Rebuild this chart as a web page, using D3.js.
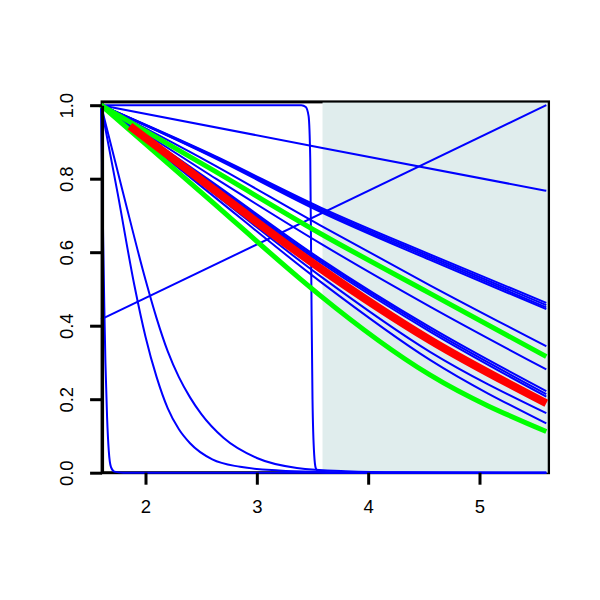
<!DOCTYPE html>
<html>
<head>
<meta charset="utf-8">
<script src="https://cdn.jsdelivr.net/npm/d3@7"></script>
<style>
  html, body { margin: 0; padding: 0; background: #ffffff; }
  svg { display: block; }
  text { font-family: "Liberation Sans", Arial, Helvetica, sans-serif; }
</style>
</head>
<body>
<svg id="chart" width="600" height="600"></svg>
<script>
// ---------------- data ----------------
const xLimits = [1.61, 5.62];
const yLimits = [0, 1.009];
const shadeStart = 3.59;
const xTicks = [2, 3, 4, 5];
const xTickLabels = ["2", "3", "4", "5"];
const yTicks = [0, 0.2, 0.4, 0.6, 0.8, 1.0];
const yTickLabels = ["0.0", "0.2", "0.4", "0.6", "0.8", "1.0"];

// common x grid of the fan of decaying curves
const fanX = [1.6, 2.58, 3.57, 4.555, 5.6];
const blueFan1 = [1, 0.868, 0.722, 0.594, 0.462];
const blueFan2 = [1, 0.866, 0.718, 0.589, 0.456];
const blueFan3 = [1, 0.864, 0.714, 0.584, 0.450];
const blueFan4 = [1, 0.862, 0.710, 0.579, 0.445];
const blueFan5 = [1, 0.843, 0.673, 0.510, 0.344];
const blueFan6 = [1, 0.810, 0.624, 0.452, 0.281];
const blueFan7 = [1, 0.795, 0.582, 0.396, 0.222];
const blueFan8 = [1, 0.791, 0.577, 0.390, 0.214];
const blueFan9 = [1, 0.787, 0.572, 0.384, 0.207];
const blueFan10 = [1, 0.768, 0.535, 0.329, 0.162];
const blueFan11 = [1, 0.760, 0.520, 0.307, 0.134];
const greenUpper = [1, 0.828, 0.651, 0.488, 0.316];
const greenLowerX = [1.6, 2.58, 3.36, 3.57, 4.555, 5.6];
const greenLower = [1, 0.742, 0.535, 0.482, 0.266, 0.112];

const redX = [1.86, 2.58, 3.57, 4.555, 5.6];
const redY = [0.943, 0.778, 0.556, 0.361, 0.189];

// nearly straight lines
const slowX = [1.6, 3.6, 5.6];
const slowY = [1, 0.883, 0.767];
const riseX = [1.6, 5.6];
const riseY = [0.417, 1.0];

// step-like drop near 3.5
const stepX = [1.6, 3.40, 3.44, 3.465, 3.48, 3.49, 3.50, 3.515, 3.53, 3.56, 3.62, 5.6];
const stepY = [1, 1, 0.995, 0.97, 0.85, 0.5, 0.2, 0.05, 0.012, 0.002, 0, 0];

// very steep drop at the left edge
const cliffX = [1.6, 1.612, 1.62, 1.63, 1.64, 1.655, 1.67, 1.69, 1.72, 1.8, 5.6];
const cliffY = [1, 0.8, 0.63, 0.45, 0.30, 0.15, 0.06, 0.015, 0.003, 0, 0];

// two fast decays
const fast1X = [1.6, 1.75, 1.9, 2.0, 2.1, 2.2, 2.3, 2.4, 2.6, 2.85, 3.2, 3.6, 4.0, 5.6];
const fast1Y = [1, 0.76, 0.51, 0.37, 0.26, 0.175, 0.118, 0.08, 0.036, 0.016, 0.006, 0.002, 0.0005, 0];
const fast2X = [1.6, 1.8, 2.0, 2.1, 2.2, 2.3, 2.4, 2.5, 2.7, 3.0, 3.36, 3.8, 4.3, 5.6];
const fast2Y = [1, 0.76, 0.525, 0.42, 0.33, 0.26, 0.205, 0.16, 0.095, 0.04, 0.013, 0.004, 0.001, 0];

// ---------------- drawing ----------------
const svg = d3.select("#chart");
const x = d3.scaleLinear().domain([2, 5]).range([145.5, 479.5]);
const y = d3.scaleLinear().domain([0, 1]).range([472.7, 105.2]);

const line = d3.line()
  .x(d => x(d[0]))
  .y(d => y(d[1]))
  .curve(d3.curveMonotoneX);

const zip = (xs, ys) => xs.map((v, i) => [v, ys[i]]);

// frame box
svg.append("rect")
  .attr("x", x(xLimits[0]))
  .attr("y", y(yLimits[1]))
  .attr("width", x(xLimits[1]) - x(xLimits[0]))
  .attr("height", y(yLimits[0]) - y(yLimits[1]))
  .attr("fill", "none")
  .attr("stroke", "#000")
  .attr("stroke-width", 3);

// shaded region
svg.append("rect")
  .attr("x", x(shadeStart))
  .attr("y", y(yLimits[1]) + 0.7)
  .attr("width", x(xLimits[1]) - x(shadeStart) - 0.8)
  .attr("height", y(yLimits[0]) - y(yLimits[1]) - 0.7)
  .attr("fill", "#e0eded");

const blue = "#0000ff";
const curves = [
  { xs: slowX, ys: slowY, color: blue, w: 2 },
  { xs: riseX, ys: riseY, color: blue, w: 2 },
  { xs: stepX, ys: stepY, color: blue, w: 2 },
  { xs: cliffX, ys: cliffY, color: blue, w: 2 },
  { xs: fast1X, ys: fast1Y, color: blue, w: 2 },
  { xs: fast2X, ys: fast2Y, color: blue, w: 2 },
  { xs: fanX, ys: blueFan1, color: blue, w: 2 },
  { xs: fanX, ys: blueFan2, color: blue, w: 2 },
  { xs: fanX, ys: blueFan3, color: blue, w: 2 },
  { xs: fanX, ys: blueFan4, color: blue, w: 2 },
  { xs: fanX, ys: blueFan5, color: blue, w: 2 },
  { xs: fanX, ys: blueFan6, color: blue, w: 2 },
  { xs: fanX, ys: blueFan7, color: blue, w: 2 },
  { xs: fanX, ys: blueFan8, color: blue, w: 2 },
  { xs: fanX, ys: blueFan9, color: blue, w: 2 },
  { xs: fanX, ys: blueFan10, color: blue, w: 2 },
  { xs: fanX, ys: blueFan11, color: blue, w: 2 },
  { xs: fanX, ys: greenUpper, color: "#00ff00", w: 5 },
  { xs: greenLowerX, ys: greenLower, color: "#00ff00", w: 5 },
  { xs: redX, ys: redY, color: "#ff0000", w: 8 }
];

svg.append("g")
  .selectAll("path")
  .data(curves)
  .join("path")
  .attr("d", d => line(zip(d.xs, d.ys)))
  .attr("fill", "none")
  .attr("stroke", d => d.color)
  .attr("stroke-width", d => d.w)
  .attr("stroke-linejoin", "round");

// y axis (drawn on top)
const yAxis = d3.axisLeft(y)
  .tickValues(yTicks)
  .tickFormat((d, i) => yTickLabels[i])
  .tickSize(12)
  .tickSizeOuter(0);
const gy = svg.append("g")
  .attr("transform", `translate(${x(xLimits[0])},0)`)
  .call(yAxis);
gy.select(".domain").attr("stroke", "#000").attr("stroke-width", 3);
gy.selectAll(".tick line").attr("stroke", "#000").attr("stroke-width", 3);
gy.selectAll(".tick text")
  .attr("transform", "rotate(-90)")
  .attr("x", 0)
  .attr("y", -29)
  .attr("dy", null)
  .attr("text-anchor", "middle")
  .attr("fill", "#000")
  .style("font-size", "18.5px");

// x axis (ticks only)
const xAxis = d3.axisBottom(x)
  .tickValues(xTicks)
  .tickFormat((d, i) => xTickLabels[i])
  .tickSize(12)
  .tickPadding(15)
  .tickSizeOuter(0);
const gx = svg.append("g")
  .attr("transform", `translate(0,${y(yLimits[0])})`)
  .call(xAxis);
gx.select(".domain").remove();
gx.selectAll(".tick line").attr("stroke", "#000").attr("stroke-width", 3);
gx.selectAll(".tick text")
  .attr("fill", "#000")
  .style("font-size", "18.5px");
</script>
</body>
</html>
